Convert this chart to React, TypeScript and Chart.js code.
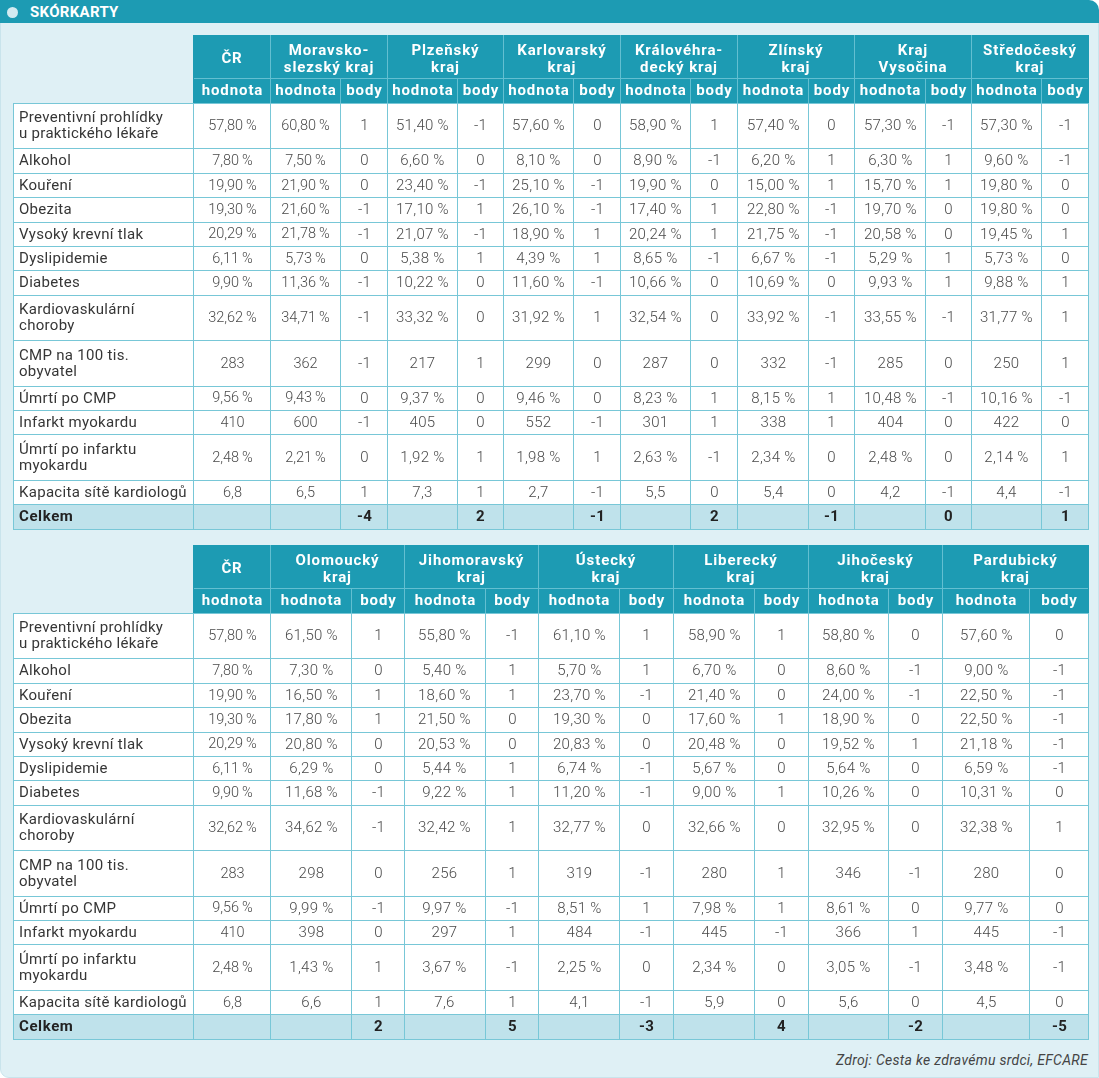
import React, { useEffect, useRef } from "react";
import { Chart, registerables } from "chart.js";

Chart.register(...registerables);

// ---------------- data ----------------
const ROW_LABELS: string[][] = [
  ["Preventivní prohlídky", "u praktického lékaře"],
  ["Alkohol"],
  ["Kouření"],
  ["Obezita"],
  ["Vysoký krevní tlak"],
  ["Dyslipidemie"],
  ["Diabetes"],
  ["Kardiovaskulární", "choroby"],
  ["CMP na 100 tis.", "obyvatel"],
  ["Úmrtí po CMP"],
  ["Infarkt myokardu"],
  ["Úmrtí po infarktu", "myokardu"],
  ["Kapacita sítě kardiologů"],
];
// "%" = percent with 2 decimals, "n" = integer, "d" = one decimal
const ROW_UNITS = ["%", "%", "%", "%", "%", "%", "%", "%", "n", "%", "n", "%", "d"];
const TOTAL_LABEL = "Celkem";
const CR_HEADER = ["ČR"];
const SUB_VALUE = "hodnota";
const SUB_POINTS = "body";
const TITLE = "SKÓRKARTY";
const SOURCE = "Zdroj: Cesta ke zdravému srdci, EFCARE";

const CR_VALUES = [57.8, 7.8, 19.9, 19.3, 20.29, 6.11, 9.9, 32.62, 283, 9.56, 410, 2.48, 6.8];

// table 1
const T1_NAMES: string[][] = [
  ["Moravsko-", "slezský kraj"],
  ["Plzeňský", "kraj"],
  ["Karlovarský", "kraj"],
  ["Královéhra-", "decký kraj"],
  ["Zlínský", "kraj"],
  ["Kraj", "Vysočina"],
  ["Středočeský", "kraj"],
];
const MSK_VALUES = [60.8, 7.5, 21.9, 21.6, 21.78, 5.73, 11.36, 34.71, 362, 9.43, 600, 2.21, 6.5];
const MSK_POINTS = [1, 0, 0, -1, -1, 0, -1, -1, -1, 0, -1, 0, 1];
const PLZ_VALUES = [51.4, 6.6, 23.4, 17.1, 21.07, 5.38, 10.22, 33.32, 217, 9.37, 405, 1.92, 7.3];
const PLZ_POINTS = [-1, 0, -1, 1, -1, 1, 0, 0, 1, 0, 0, 1, 1];
const KV_VALUES = [57.6, 8.1, 25.1, 26.1, 18.9, 4.39, 11.6, 31.92, 299, 9.46, 552, 1.98, 2.7];
const KV_POINTS = [0, 0, -1, -1, 1, 1, -1, 1, 0, 0, -1, 1, -1];
const KH_VALUES = [58.9, 8.9, 19.9, 17.4, 20.24, 8.65, 10.66, 32.54, 287, 8.23, 301, 2.63, 5.5];
const KH_POINTS = [1, -1, 0, 1, 1, -1, 0, 0, 0, 1, 1, -1, 0];
const ZL_VALUES = [57.4, 6.2, 15.0, 22.8, 21.75, 6.67, 10.69, 33.92, 332, 8.15, 338, 2.34, 5.4];
const ZL_POINTS = [0, 1, 1, -1, -1, -1, 0, -1, -1, 1, 1, 0, 0];
const VY_VALUES = [57.3, 6.3, 15.7, 19.7, 20.58, 5.29, 9.93, 33.55, 285, 10.48, 404, 2.48, 4.2];
const VY_POINTS = [-1, 1, 1, 0, 0, 1, 1, -1, 0, -1, 0, 0, -1];
const SC_VALUES = [57.3, 9.6, 19.8, 19.8, 19.45, 5.73, 9.88, 31.77, 250, 10.16, 422, 2.14, 4.4];
const SC_POINTS = [-1, -1, 0, 0, 1, 0, 1, 1, 1, -1, 0, 1, -1];
const T1_TOTALS = [-4, 2, -1, 2, -1, 0, 1];

// table 2
const T2_NAMES: string[][] = [
  ["Olomoucký", "kraj"],
  ["Jihomoravský", "kraj"],
  ["Ústecký", "kraj"],
  ["Liberecký", "kraj"],
  ["Jihočeský", "kraj"],
  ["Pardubický", "kraj"],
];
const OL_VALUES = [61.5, 7.3, 16.5, 17.8, 20.8, 6.29, 11.68, 34.62, 298, 9.99, 398, 1.43, 6.6];
const OL_POINTS = [1, 0, 1, 1, 0, 0, -1, -1, 0, -1, 0, 1, 1];
const JM_VALUES = [55.8, 5.4, 18.6, 21.5, 20.53, 5.44, 9.22, 32.42, 256, 9.97, 297, 3.67, 7.6];
const JM_POINTS = [-1, 1, 1, 0, 0, 1, 1, 1, 1, -1, 1, -1, 1];
const US_VALUES = [61.1, 5.7, 23.7, 19.3, 20.83, 6.74, 11.2, 32.77, 319, 8.51, 484, 2.25, 4.1];
const US_POINTS = [1, 1, -1, 0, 0, -1, -1, 0, -1, 1, -1, 0, -1];
const LB_VALUES = [58.9, 6.7, 21.4, 17.6, 20.48, 5.67, 9.0, 32.66, 280, 7.98, 445, 2.34, 5.9];
const LB_POINTS = [1, 0, 0, 1, 0, 0, 1, 0, 1, 1, -1, 0, 0];
const JC_VALUES = [58.8, 8.6, 24.0, 18.9, 19.52, 5.64, 10.26, 32.95, 346, 8.61, 366, 3.05, 5.6];
const JC_POINTS = [0, -1, -1, 0, 1, 0, 0, 0, -1, 0, 1, -1, 0];
const PA_VALUES = [57.6, 9.0, 22.5, 22.5, 21.18, 6.59, 10.31, 32.38, 280, 9.77, 445, 3.48, 4.5];
const PA_POINTS = [0, -1, -1, -1, -1, -1, 0, 1, 0, 0, -1, -1, 0];
const T2_TOTALS = [2, 5, -3, 4, -2, -5];

// ---------------- layout / style ----------------
const LABEL_W = 180;
const CR_W = 77;
const HEAD1_H = 43;
const HEAD2_H = 25;
const ROW1_H = 24.4;
const ROW2_H = 45.4;
const TOTAL_H = 25;
const T1_VALUE_W = [70, 70, 70, 70, 71, 71, 70];
const T1_POINTS_W = [47, 46, 47, 47, 46, 46, 47];
const T1_NARROW = [true, false, false, false, false, false, false];
const T2_VALUE_W = [81, 81, 81, 81, 80, 87];
const T2_POINTS_W = [53, 53, 54, 54, 54, 59];
const T2_NARROW = [false, false, false, false, false, false];

const TEAL = "#1d9bb3";
const HEAD_LINE = "#63bfd1";
const GRID = "#78c7d7";
const TOTAL_BG = "#bfe2eb";
const PANEL_BG = "#dff0f5";
const FONT = "Roboto, 'Noto Sans', sans-serif";

type Region = { name: string[]; values: number[]; points: number[]; total: number; narrow: boolean };

const T1_REGIONS: Region[] = [
  [MSK_VALUES, MSK_POINTS],
  [PLZ_VALUES, PLZ_POINTS],
  [KV_VALUES, KV_POINTS],
  [KH_VALUES, KH_POINTS],
  [ZL_VALUES, ZL_POINTS],
  [VY_VALUES, VY_POINTS],
  [SC_VALUES, SC_POINTS],
].map(([v, p], i) => ({ name: T1_NAMES[i], values: v, points: p, total: T1_TOTALS[i], narrow: T1_NARROW[i] }));

const T2_REGIONS: Region[] = [
  [OL_VALUES, OL_POINTS],
  [JM_VALUES, JM_POINTS],
  [US_VALUES, US_POINTS],
  [LB_VALUES, LB_POINTS],
  [JC_VALUES, JC_POINTS],
  [PA_VALUES, PA_POINTS],
].map(([v, p], i) => ({ name: T2_NAMES[i], values: v, points: p, total: T2_TOTALS[i], narrow: T2_NARROW[i] }));

function fmt(v: number, unit: string, narrow: boolean): string {
  if (unit === "%") return v.toFixed(2).replace(".", ",") + (narrow ? "\u2009%" : " %");
  if (unit === "d") return v.toFixed(1).replace(".", ",");
  return String(Math.round(v));
}

function ScoreTable({ regions, valueW, pointsW }: { regions: Region[]; valueW: number[]; pointsW: number[] }) {
  const ref = useRef<HTMLCanvasElement>(null);

  const colW = [LABEL_W, CR_W, ...regions.flatMap((_, i) => [valueW[i], pointsW[i]])];
  const colEdges = [0];
  colW.forEach((w) => colEdges.push(colEdges[colEdges.length - 1] + w));
  const rowH = [HEAD1_H, HEAD2_H, ...ROW_LABELS.map((l) => (l.length > 1 ? ROW2_H : ROW1_H)), TOTAL_H];
  const rowEdges = [0];
  rowH.forEach((h) => rowEdges.push(rowEdges[rowEdges.length - 1] + h));
  const W = Math.round(colEdges[colEdges.length - 1]) + 1;
  const H = Math.round(rowEdges[rowEdges.length - 1]) + 1;

  useEffect(() => {
    const canvas = ref.current;
    if (!canvas) return;
    const cx = (c: number) => (colEdges[c] + colEdges[c + 1]) / 2;
    const cy = (r: number) => (rowEdges[r] + rowEdges[r + 1]) / 2;
    const nData = ROW_LABELS.length;
    const totalRow = nData + 2;

    const datasets: any[] = [];
    datasets.push({
      label: "ČR hodnota",
      data: CR_VALUES.map((v, i) => ({ x: cx(1), y: cy(i + 2), text: fmt(v, ROW_UNITS[i], true), narrow: true })),
      pointRadius: 0,
    });
    regions.forEach((reg, k) => {
      datasets.push({
        label: reg.name.join(" ") + " hodnota",
        data: reg.values.map((v, i) => ({
          x: cx(2 + 2 * k),
          y: cy(i + 2),
          text: fmt(v, ROW_UNITS[i], reg.narrow),
          narrow: reg.narrow,
        })),
        pointRadius: 0,
      });
      datasets.push({
        label: reg.name.join(" ") + " body",
        data: [
          ...reg.points.map((v, i) => ({ x: cx(3 + 2 * k), y: cy(i + 2), text: String(v) })),
          { x: cx(3 + 2 * k), y: cy(totalRow), text: String(reg.total), bold: true },
        ],
        pointRadius: 0,
      });
    });

    const tablePlugin = {
      id: "scoreTable",
      afterDraw(chart: any) {
        const ctx: CanvasRenderingContext2D = chart.ctx;
        const xs = chart.scales.x;
        const ys = chart.scales.y;
        const px = (v: number) => Math.round(xs.getPixelForValue(v));
        const py = (v: number) => Math.round(ys.getPixelForValue(v));
        const lastC = colEdges.length - 1;
        const lastR = rowEdges.length - 1;
        ctx.save();

        const xL = px(0);
        const xCR = px(colEdges[1]);
        const xR = px(colEdges[lastC]);
        const yTop = py(0);
        const yH1 = py(rowEdges[1]);
        const yH2 = py(rowEdges[2]);
        const yTot = py(rowEdges[lastR - 1]);
        const yEnd = py(rowEdges[lastR]);

        // header background
        ctx.fillStyle = TEAL;
        ctx.fillRect(xCR, yTop, xR - xCR + 1, yH2 - yTop);
        // body background
        ctx.fillStyle = "#ffffff";
        ctx.fillRect(xL, yH2, xR - xL + 1, yTot - yH2);
        ctx.fillStyle = TOTAL_BG;
        ctx.fillRect(xL, yTot, xR - xL + 1, yEnd - yTot + 1);

        ctx.lineWidth = 1;
        const hLine = (x0: number, x1: number, yy: number) => {
          ctx.beginPath();
          ctx.moveTo(x0, yy + 0.5);
          ctx.lineTo(x1 + 1, yy + 0.5);
          ctx.stroke();
        };
        const vLine = (xx: number, y0: number, y1: number) => {
          ctx.beginPath();
          ctx.moveTo(xx + 0.5, y0);
          ctx.lineTo(xx + 0.5, y1 + 1);
          ctx.stroke();
        };

        // header lines
        ctx.strokeStyle = HEAD_LINE;
        hLine(xCR + 1, xR - 1, yH1);
        for (let c = 2; c < lastC; c++) {
          const isGroup = c % 2 === 0;
          vLine(px(colEdges[c]), isGroup ? yTop : yH1, yH2 - 1);
        }

        // body grid
        ctx.strokeStyle = GRID;
        for (let r = 2; r <= lastR; r++) hLine(xL, xR, py(rowEdges[r]));
        for (let c = 0; c <= lastC; c++) vLine(px(colEdges[c]), yH2, yEnd);

        ctx.textBaseline = "middle";
        // header text
        ctx.fillStyle = "#ffffff";
        ctx.font = `bold 15px ${FONT}`;
        (ctx as any).letterSpacing = "0.9px";
        ctx.textAlign = "center";
        const groups: { lines: string[]; c0: number; c1: number }[] = [
          { lines: CR_HEADER, c0: 1, c1: 2 },
          ...regions.map((r, k) => ({ lines: r.name, c0: 2 + 2 * k, c1: 4 + 2 * k })),
        ];
        const yHc = (py(0) + py(rowEdges[1])) / 2 + 3;
        groups.forEach((g) => {
          const gx = (px(colEdges[g.c0]) + px(colEdges[g.c1])) / 2 + 0.5;
          const n = g.lines.length;
          g.lines.forEach((t, i) => {
            ctx.fillText(t, gx, yHc + (i - (n - 1) / 2) * 17);
          });
        });
        const ySub = (py(rowEdges[1]) + py(rowEdges[2])) / 2 + 1;
        for (let c = 1; c < lastC; c++) {
          const t = c === 1 || c % 2 === 0 ? SUB_VALUE : SUB_POINTS;
          ctx.fillText(t, (px(colEdges[c]) + px(colEdges[c + 1])) / 2 + 1, ySub);
        }

        // row labels
        (ctx as any).letterSpacing = "0.3px";
        ctx.textAlign = "left";
        ctx.fillStyle = "#363636";
        ctx.font = `15px ${FONT}`;
        ROW_LABELS.forEach((lines, i) => {
          const yc = (py(rowEdges[i + 2]) + py(rowEdges[i + 3])) / 2 + 1;
          lines.forEach((t, j) => {
            ctx.fillText(t, xL + 6, yc + (j - (lines.length - 1) / 2) * 16);
          });
        });
        ctx.font = `bold 15px ${FONT}`;
        (ctx as any).letterSpacing = "0.6px";
        ctx.fillStyle = "#222222";
        ctx.fillText(TOTAL_LABEL, xL + 6, (yTot + yEnd) / 2 + 1);

        // values, positioned by the chart's own elements
        ctx.textAlign = "center";
        chart.data.datasets.forEach((ds: any, di: number) => {
          const meta = chart.getDatasetMeta(di);
          meta.data.forEach((el: any, j: number) => {
            const d = ds.data[j];
            if (d.bold) {
              ctx.font = `bold 15px ${FONT}`;
              (ctx as any).letterSpacing = "0.3px";
              ctx.fillStyle = "#222222";
            } else if (d.narrow) {
              ctx.font = `300 14.5px ${FONT}`;
              (ctx as any).letterSpacing = "0px";
              ctx.fillStyle = "#4a4a4a";
            } else {
              ctx.font = `300 15px ${FONT}`;
              (ctx as any).letterSpacing = "0.3px";
              ctx.fillStyle = "#4a4a4a";
            }
            ctx.fillText(d.text, Math.round(el.x) + 0.5, el.y + 1);
          });
        });
        ctx.restore();
      },
    };

    const chart = new Chart(canvas, {
      type: "scatter",
      data: { datasets },
      options: {
        animation: false,
        responsive: false,
        maintainAspectRatio: false,
        devicePixelRatio: 1,
        events: [],
        layout: { padding: 0 },
        plugins: { legend: { display: false }, tooltip: { enabled: false } },
        scales: {
          x: { type: "linear", min: 0, max: W, display: false },
          y: { type: "linear", min: 0, max: H, reverse: true, display: false },
        },
      },
      plugins: [tablePlugin],
    } as any);
    return () => chart.destroy();
  }, []);

  return <canvas ref={ref} width={W} height={H} style={{ width: W, height: H, display: "block" }} />;
}

export default function App() {
  return (
    <div style={{ position: "relative", width: 1099, height: 1078, fontFamily: FONT, overflow: "hidden" }}>
      <style>{`body{margin:0}`}</style>
      <div
        style={{
          position: "absolute",
          left: 0,
          top: 10,
          width: 1097,
          height: 1066,
          background: PANEL_BG,
          border: "1px solid #c9e4ec",
          borderBottomLeftRadius: 9,
        }}
      />
      <div
        style={{
          position: "absolute",
          left: 0,
          top: 0,
          width: 1099,
          height: 23,
          background: TEAL,
          borderTopRightRadius: 10,
        }}
      >
        <div
          style={{
            position: "absolute",
            left: 7,
            top: 7,
            width: 11,
            height: 11,
            borderRadius: "50%",
            background: "#d3ebf1",
          }}
        />
        <div
          style={{
            position: "absolute",
            left: 30,
            top: 0,
            lineHeight: "24px",
            fontSize: 15,
            fontWeight: 700,
            color: "#ffffff",
            letterSpacing: "0.3px",
          }}
        >
          {TITLE}
        </div>
      </div>
      <div style={{ position: "absolute", left: 13, top: 35 }}>
        <ScoreTable regions={T1_REGIONS} valueW={T1_VALUE_W} pointsW={T1_POINTS_W} />
      </div>
      <div style={{ position: "absolute", left: 13, top: 545 }}>
        <ScoreTable regions={T2_REGIONS} valueW={T2_VALUE_W} pointsW={T2_POINTS_W} />
      </div>
      <div
        style={{
          position: "absolute",
          right: 11,
          top: 1051,
          fontSize: 14,
          fontStyle: "italic",
          color: "#444444",
          lineHeight: "18px",
          whiteSpace: "nowrap",
          letterSpacing: "0.3px",
        }}
      >
        {SOURCE}
      </div>
    </div>
  );
}
